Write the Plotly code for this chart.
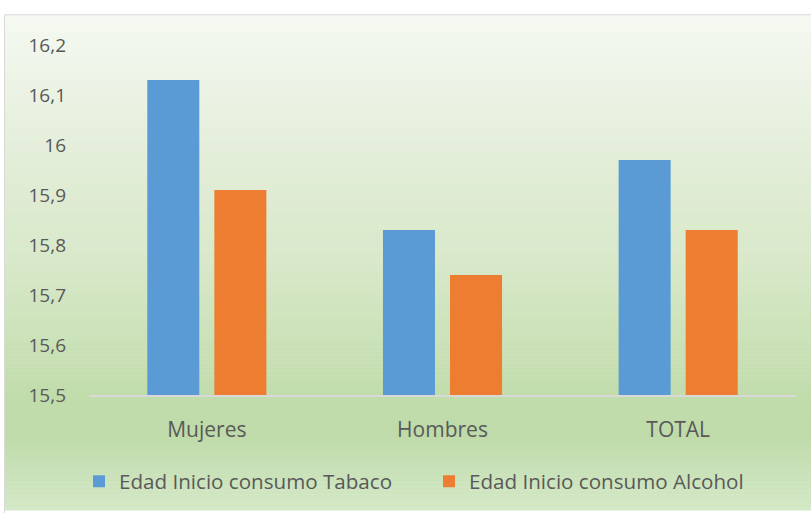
import plotly.graph_objects as go

categories = ["Mujeres", "Hombres", "TOTAL"]
tabaco = [16.13, 15.83, 15.97]
alcohol = [15.91, 15.74, 15.83]
series_names = ["Edad Inicio consumo Tabaco", "Edad Inicio consumo Alcohol"]

W, H = 811, 513
L, R, T, B = 89, 15, 45, 115
pw, ph = W - L - R, H - T - B
axis_py = H - B


def xp(px):
    return (px - L) / pw


def yp(py):
    return (axis_py - py) / ph


# gradient stops (pixel y, rgb)
stops = [(14, (245, 249, 242)), (150, (228, 238, 218)), (280, (214, 231, 198)),
         (400, (193, 220, 171)), (440, (192, 219, 170)), (513, (211, 232, 198))]


def col(py):
    for (a, ca), (b, cb) in zip(stops, stops[1:]):
        if a <= py <= b:
            t = (py - a) / (b - a)
            c = [round(ca[i] + (cb[i] - ca[i]) * t) for i in range(3)]
            return "rgb(%d,%d,%d)" % tuple(c)
    return "rgb(%d,%d,%d)" % (stops[-1][1] if py > stops[-1][0] else stops[0][1])


shapes = []
step = 4
py = 14
while py < H:
    shapes.append(dict(type="rect", xref="paper", yref="paper", layer="below",
                       x0=xp(4.5), x1=xp(W + 5), y0=yp(py + step + 0.5), y1=yp(py),
                       fillcolor=col(py + step / 2), line=dict(width=0)))
    py += step
# border of chart area
shapes.append(dict(type="line", xref="paper", yref="paper", x0=xp(4.5), x1=xp(W + 5),
                   y0=yp(14.5), y1=yp(14.5), line=dict(color="#d9d9d9", width=1)))
shapes.append(dict(type="line", xref="paper", yref="paper", x0=xp(4.5), x1=xp(4.5),
                   y0=yp(14.5), y1=yp(H + 5), line=dict(color="#d9d9d9", width=1)))

fig = go.Figure()
fig.add_trace(go.Bar(x=categories, y=tabaco, name=series_names[0],
                     marker=dict(color="#5b9bd5", line=dict(width=0))))
fig.add_trace(go.Bar(x=categories, y=alcohol, name=series_names[1],
                     marker=dict(color="#ed7d31", line=dict(width=0))))

font_family = "Open Sans"
fig.update_layout(
    width=W, height=H,
    margin=dict(l=L, r=R, t=T, b=B, pad=0),
    paper_bgcolor="white", plot_bgcolor="rgba(0,0,0,0)",
    separators=",.",
    barmode="group", bargap=0.431, bargroupgap=0.224,
    font=dict(family=font_family, color="#595959", size=18),
    shapes=shapes,
    showlegend=True,
    legend=dict(orientation="h", x=xp(429), xanchor="center", y=yp(485), yanchor="middle",
                font=dict(size=20.6, color="#595959"), bgcolor="rgba(0,0,0,0)",
                entrywidth=305, entrywidthmode="pixels", traceorder="normal"),
    xaxis=dict(showline=True, linecolor="#d9d9d9", linewidth=1.5, showgrid=False,
               ticks="", tickfont=dict(size=21, color="#595959"), ticklabelstandoff=15),
    yaxis=dict(range=[15.5, 16.2], dtick=0.1, tick0=15.5, tickformat=".1~f",
               showgrid=False, zeroline=False, showline=False, ticks="",
               tickfont=dict(size=19, color="#595959"), ticklabelstandoff=22),
)

fig.write_html("out.html", config={"displayModeBar": False},
               post_script="document.body.style.margin='0';document.body.style.overflow='hidden';")
